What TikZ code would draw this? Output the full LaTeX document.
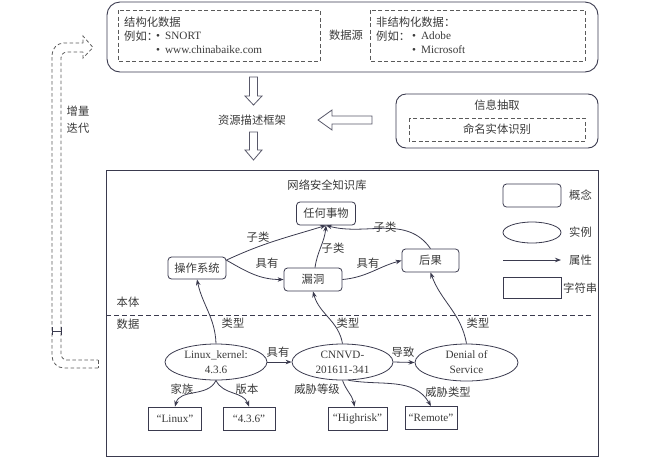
\documentclass[tikz,border=0pt]{standalone}
\usepackage{fontspec}
\setmainfont{Liberation Serif}
\newfontfamily\zhfont{Noto Sans CJK SC}
\usetikzlibrary{shapes.geometric,arrows.meta}
\definecolor{linec}{HTML}{3A3A4E}
\definecolor{textc}{HTML}{3A3A3A}
\definecolor{dashc}{HTML}{5A5A5A}
\begin{document}
\begin{tikzpicture}[x=1pt,y=1pt,
  every node/.style={font=\fontsize{11.2}{14}\selectfont, text=textc, inner sep=0pt},
  zh/.style={font=\zhfont\fontsize{11.3}{14}\selectfont},
  concept/.style={draw=linec, line width=0.8pt, rounded corners=3.5pt, minimum width=58pt, minimum height=23pt, zh},
  inst/.style={draw=linec, line width=0.8pt, ellipse, minimum width=102pt, minimum height=36pt, align=center, font=\fontsize{11.2}{15}\selectfont},
  strbox/.style={draw=linec, line width=0.8pt, minimum width=53pt, minimum height=23pt},
  arr/.style={draw=linec, line width=0.8pt, -{Stealth[length=6pt,width=4.5pt]}},
  dbox/.style={draw=dashc, line width=0.8pt, dash pattern=on 4pt off 2.5pt},
  hollow/.style={draw=linec!85, line width=0.8pt, fill=white},
  fb/.style={draw=dashc, line width=0.8pt, dash pattern=on 3.5pt off 2.5pt},
]
\useasboundingbox (0,0) rectangle (650,-459);

% ---------- data source box ----------
\draw[linec, line width=0.9pt, rounded corners=13pt] (107,-2) rectangle (598,-72);
\draw[dbox] (118,-10) rectangle (320,-61);
\draw[dbox] (370,-10) rectangle (585,-61);
\node[zh, anchor=west] (sd1) at (124,-22) {结构化数据};
\node[zh, anchor=west] (sd2) at (124,-36) {例如：};
\node[anchor=west] (sd3) at (156,-36) {•\hspace{5pt}SNORT};
\node[anchor=west] (sd4) at (156,-50) {•\hspace{5pt}www.chinabaike.com};
\node[zh] (src) at (346,-35) {数据源};
\node[zh, anchor=west] (ud1) at (376,-22) {非结构化数据：};
\node[zh, anchor=west] (ud2) at (376,-36) {例如：};
\node[anchor=west] (ud3) at (412,-36) {•\hspace{5pt}Adobe};
\node[anchor=west] (ud4) at (412,-50) {•\hspace{5pt}Microsoft};

% ---------- RDF and hollow arrows ----------
\node[zh] (rdf) at (252,-120) {资源描述框架};
\draw[hollow] (249.5,-77) -- (257.5,-77) -- (257.5,-96) -- (262,-96) -- (253.5,-105) -- (245,-96) -- (249.5,-96) -- cycle;
\draw[hollow] (249.5,-132) -- (257.5,-132) -- (257.5,-150) -- (262,-150) -- (253.5,-160) -- (245,-150) -- (249.5,-150) -- cycle;
\draw[hollow] (372,-116) -- (332,-116) -- (332,-110) -- (318,-120) -- (332,-130) -- (332,-124) -- (372,-124) -- cycle;

% ---------- information extraction ----------
\draw[linec, line width=0.9pt, rounded corners=10pt] (396,-94) rectangle (598,-148);
\node[zh] (ie) at (497,-105) {信息抽取};
\draw[dbox] (409,-118) rectangle (585,-141);
\node[zh] (ner) at (497,-129.5) {命名实体识别};

% ---------- feedback arrow ----------
\draw[fb, rounded corners=12pt] (98,-368) -- (52,-368) -- (52,-43) -- (83,-43);
\draw[fb] (83,-43) -- (83,-36) -- (93,-47.5) -- (83,-58) -- (83,-52);
\draw[fb, rounded corners=6pt] (83,-52) -- (61,-52) -- (61,-360) -- (98,-360);
\draw[fb] (98,-360) -- (98,-368);
\draw[linec, line width=0.8pt] (52,-331) -- (61,-331) (52,-327) -- (52,-335) (61,-327) -- (61,-335);
\node[zh] (inc1) at (78,-111) {增量};
\node[zh] (inc2) at (78,-128) {迭代};

% ---------- knowledge base ----------
\draw[linec, line width=0.9pt] (106,-170) rectangle (598,-456);
\node[zh] (title) at (327,-185) {网络安全知识库};
\draw[linec, line width=0.8pt, dash pattern=on 5pt off 3pt] (106,-315) -- (591,-315);
\node[zh] (onto) at (128,-302) {本体};
\node[zh] (data) at (128,-324) {数据};

% concepts
\node[concept, minimum width=59pt] (any) at (326,-213.5) {任何事物};
\node[concept, minimum height=22pt] (os) at (197,-268) {操作系统};
\node[concept] (vuln) at (313,-279.5) {漏洞};
\node[concept, minimum width=57pt] (cons) at (430.5,-260.5) {后果};

% instances
\node[inst] (linux) at (216,-362) {Linux\_kernel:\\4.3.6};
\node[inst, minimum width=101pt] (cnnvd) at (342.5,-362) {CNNVD-\\201611-341};
\node[inst, minimum width=103pt, minimum height=37pt] (dos) at (466.5,-362.5) {Denial of\\Service};

% strings
\node[strbox] (s1) at (175,-418.5) {“Linux”};
\node[strbox, minimum width=52pt] (s2) at (249,-418.5) {“4.3.6”};
\node[strbox, minimum width=59pt] (s3) at (357.5,-418.5) {“Highrisk”};
\node[strbox, minimum width=52pt] (s4) at (431,-418) {“Remote”};

% ontology edges
\draw[arr] (os.15) to[out=25,in=197] (any.south);
\draw[arr] ([xshift=2pt]vuln.north) to[out=82,in=-95] (any.south);
\draw[arr] (cons.north) to[out=125,in=-15] (any.south);
\draw[arr] (os.15) to[out=-30,in=180] (vuln.west);
\draw[arr] (vuln.east) to[out=5,in=195] (cons.west);
\node[zh] (l1) at (258,-237) {子类};
\node[zh] (l2) at (267,-263) {具有};
\node[zh] (l3) at (333,-248) {子类};
\node[zh] (l4) at (368,-263) {具有};
\node[zh] (l5) at (385,-227) {子类};

% type edges
\draw[arr] (linux.north) to[out=92,in=-78] (os.south);
\draw[arr] (cnnvd.north) to[out=100,in=-75] (vuln.south);
\draw[arr] (dos.north) to[out=100,in=-70] (cons.south);
\node[zh] (t1) at (233,-323) {类型};
\node[zh] (t2) at (348,-323) {类型};
\node[zh] (t3) at (478,-323) {类型};

% instance edges
\draw[arr] (linux.east) -- (cnnvd.west);
\draw[arr] (cnnvd.east) -- (dos.west);
\node[zh] (r1) at (278,-352) {具有};
\node[zh] (r2) at (403,-352) {导致};

\draw[arr] (linux.south) to[out=-115,in=75] (s1.north);
\draw[arr] (linux.south) to[out=-65,in=110] (s2.north);
\draw[arr] (cnnvd.south) to[out=-70,in=100] ([xshift=-3pt]s3.north);
\draw[arr] (cnnvd.-72) to[out=-10,in=120] (s4.north);
\node[zh] (a1) at (182,-389) {家族};
\node[zh] (a2) at (247,-389) {版本};
\node[zh] (a3) at (317,-389) {威胁等级};
\node[zh] (a4) at (448,-392) {威胁类型};

% legend
\node[concept] (lc) at (532,-195.5) {};
\node[zh, anchor=west] (lct) at (569,-195.5) {概念};
\node[draw=linec, line width=0.8pt, ellipse, minimum width=58pt, minimum height=21pt] (le) at (532,-232.5) {};
\node[zh, anchor=west] (let) at (569,-232.5) {实例};
\coordinate (la1) at (503,-260);
\coordinate (la2) at (561,-260);
\draw[arr] (la1) -- (la2);
\node[zh, anchor=west] (lat) at (569,-260) {属性};
\node[strbox, minimum width=58pt, minimum height=21pt] (ls) at (532,-288) {};
\node[zh, anchor=west] (lst) at (563,-288) {字符串};
\end{tikzpicture}
\end{document}
